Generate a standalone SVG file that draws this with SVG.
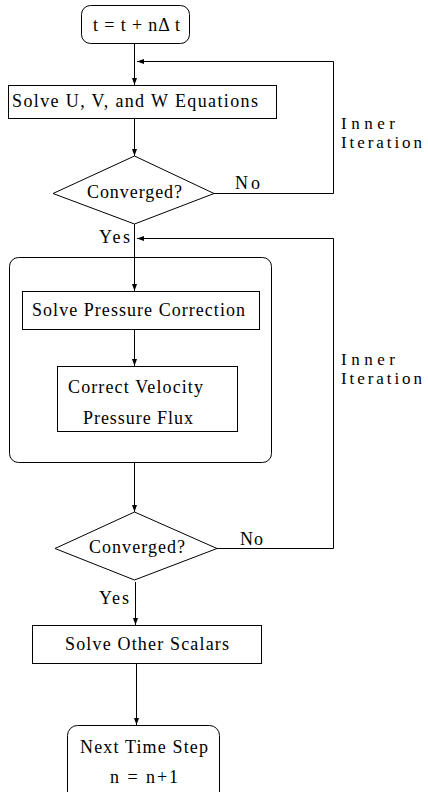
<svg xmlns="http://www.w3.org/2000/svg" width="428" height="792" viewBox="0 0 428 792">
  <style>
    .box { fill: #fff; stroke: #000; stroke-width: 1; }
    .frame { fill: none; stroke: #000; stroke-width: 1; }
    .wire { fill: none; stroke: #000; stroke-width: 1; }
    text { font-family: "Liberation Serif", "Times New Roman", serif; font-size: 18px; fill: #000; }
    .side { font-size: 17px; }
  </style>
  <defs>
    <marker id="arr" markerUnits="userSpaceOnUse" markerWidth="8" markerHeight="6" refX="7" refY="3" orient="auto">
      <path d="M0,0.5 L7,3 L0,5.5 z" fill="#000"/>
    </marker>
  </defs>
  <rect width="428" height="792" fill="#fff"/>

  <!-- connectors -->
  <g id="connectors">
    <line class="wire" x1="134.5" y1="43" x2="134.5" y2="85" marker-end="url(#arr)"/>
    <polyline class="wire" points="214,193.5 333.5,193.5 333.5,61.5 137,61.5" marker-end="url(#arr)"/>
    <line class="wire" x1="134.5" y1="118" x2="134.5" y2="156" marker-end="url(#arr)"/>
    <line class="wire" x1="134.5" y1="224" x2="134.5" y2="291" marker-end="url(#arr)"/>
    <polyline class="wire" points="217,548.5 333.5,548.5 333.5,238.5 137,238.5" marker-end="url(#arr)"/>
    <line class="wire" x1="134.5" y1="329" x2="134.5" y2="366" marker-end="url(#arr)"/>
    <line class="wire" x1="134.5" y1="462" x2="134.5" y2="512" marker-end="url(#arr)"/>
    <line class="wire" x1="135.5" y1="582" x2="135.5" y2="625" marker-end="url(#arr)"/>
    <line class="wire" x1="136.5" y1="663" x2="136.5" y2="725" marker-end="url(#arr)"/>
  </g>

  <g id="time-advance">
    <rect class="box" x="81.5" y="5.5" width="108" height="38" rx="9"/>
    <text x="93" y="31" textLength="87" lengthAdjust="spacing">t = t + nΔ t</text>
  </g>

  <g id="solve-uvw">
    <rect class="box" x="8.5" y="85.5" width="268" height="33"/>
    <text x="12" y="107" textLength="246" lengthAdjust="spacing">Solve U, V, and W Equations</text>
  </g>

  <g id="check-momentum">
    <polygon class="box" points="134.5,156 214,193.5 134.5,224 53,193.5"/>
    <text x="87" y="198" textLength="95" lengthAdjust="spacing">Converged?</text>
  </g>

  <g id="labels-momentum">
    <text x="235" y="189" textLength="25" lengthAdjust="spacing">No</text>
    <text x="99" y="243" textLength="31" lengthAdjust="spacing">Yes</text>
    <text class="side" x="341" y="129" textLength="54" lengthAdjust="spacing">Inner</text>
    <text class="side" x="341" y="148" textLength="81" lengthAdjust="spacing">Iteration</text>
  </g>

  <g id="pressure-block">
    <rect class="frame" x="9.5" y="257.5" width="262" height="205" rx="9"/>
  </g>

  <g id="solve-pressure">
    <rect class="box" x="22.5" y="291.5" width="237" height="38"/>
    <text x="32" y="316" textLength="213" lengthAdjust="spacing">Solve Pressure Correction</text>
  </g>

  <g id="correct-velocity">
    <rect class="box" x="57.5" y="366.5" width="180" height="65"/>
    <text x="68" y="393" textLength="135" lengthAdjust="spacing">Correct Velocity</text>
    <text x="83" y="424" textLength="110" lengthAdjust="spacing">Pressure Flux</text>
  </g>

  <g id="check-pressure">
    <polygon class="box" points="134.5,512 217,548.5 134.5,580 55,548.5"/>
    <text x="89" y="553" textLength="96" lengthAdjust="spacing">Converged?</text>
  </g>

  <g id="labels-pressure">
    <text x="240" y="545" textLength="23" lengthAdjust="spacing">No</text>
    <text x="99" y="604" textLength="30" lengthAdjust="spacing">Yes</text>
    <text class="side" x="341" y="365" textLength="54" lengthAdjust="spacing">Inner</text>
    <text class="side" x="341" y="384" textLength="81" lengthAdjust="spacing">Iteration</text>
  </g>

  <g id="solve-scalars">
    <rect class="box" x="32.5" y="625.5" width="229" height="38"/>
    <text x="65" y="650" textLength="164" lengthAdjust="spacing">Solve Other Scalars</text>
  </g>

  <g id="next-step">
    <rect class="box" x="67.5" y="725.5" width="152" height="80" rx="10"/>
    <text x="80" y="753" textLength="128" lengthAdjust="spacing">Next Time Step</text>
    <text x="110" y="783" textLength="68" lengthAdjust="spacing">n = n+1</text>
  </g>
</svg>
